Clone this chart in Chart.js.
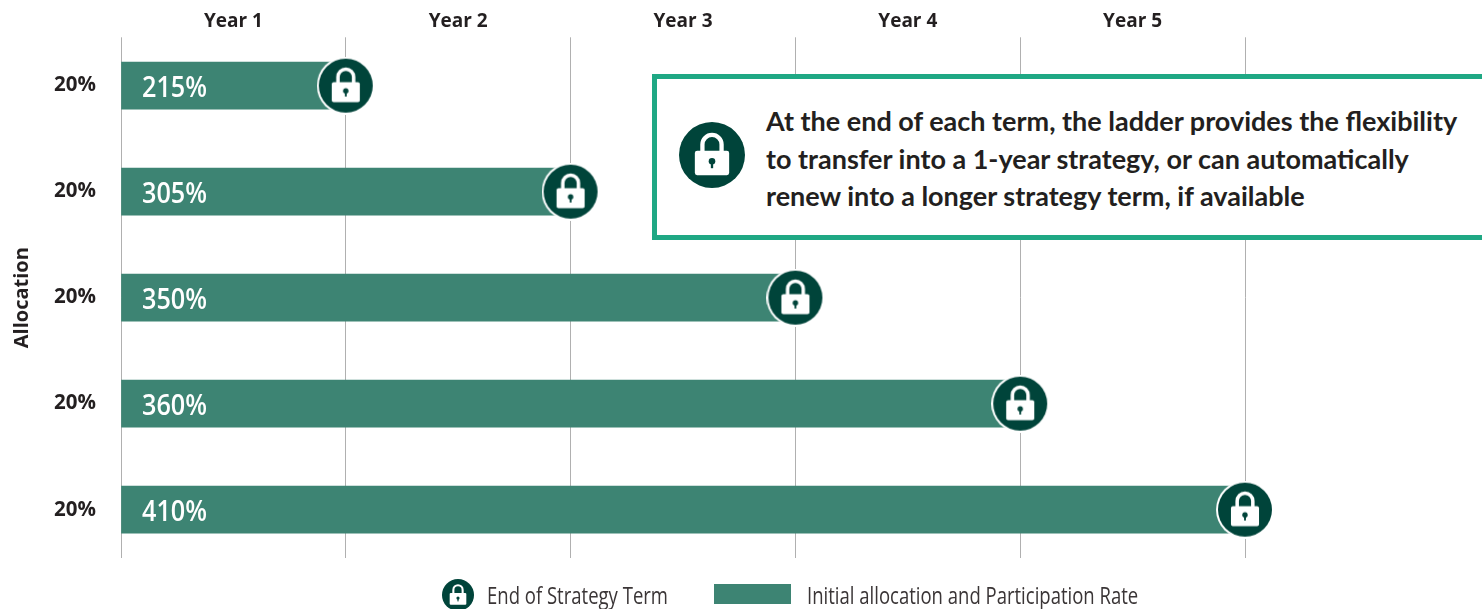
<!DOCTYPE html>
<html>
<head>
<meta charset="utf-8">
<script src="https://cdn.jsdelivr.net/npm/chart.js@4"></script>
<style>
  html, body { margin: 0; padding: 0; background: #fff; overflow: hidden; }
  #wrap { position: relative; width: 1482px; height: 609px; overflow: hidden; }
  #callout {
    position: absolute; left: 652px; top: 74px; width: 860px; height: 166px;
    box-sizing: border-box; border: 5px solid #1fa884; background: #fff;
  }
  #callout canvas { position: absolute; left: 22px; top: 43px; }
  #callout div {
    position: absolute; left: 109px; top: 23px; white-space: nowrap;
    font: 700 27px/37.5px Lato, sans-serif; color: #231f20;
  }
  .legend-text {
    position: absolute; top: 580px; white-space: nowrap; transform: scaleX(0.805); transform-origin: left center;
    font: 23px/30px "Open Sans", sans-serif; color: #3a3536;
  }
  #swatch { position: absolute; left: 714px; top: 584px; width: 77px; height: 20px; background: #3d8473; }
  #legendLock { position: absolute; left: 442px; top: 579px; }
</style>
</head>
<body>
<div id="wrap">
  <canvas id="ladderChart" width="1482" height="609"></canvas>
  <div id="callout">
    <canvas id="calloutLock"></canvas>
    <div>At the end of each term, the ladder provides the flexibility<br>to transfer into a 1-year strategy, or can automatically<br>renew into a longer strategy term, if available</div>
  </div>
  <canvas id="legendLock"></canvas>
  <span class="legend-text" style="left:487px">End of Strategy Term</span>
  <div id="swatch"></div>
  <span class="legend-text" style="left:807px">Initial allocation and Participation Rate</span>
</div>

<script>
// Data
var yearLabels = ["Year 1", "Year 2", "Year 3", "Year 4", "Year 5"];
var allocations = ["20%", "20%", "20%", "20%", "20%"];
var rows = [0, 1, 2, 3, 4];
var termYears = [1, 2, 3, 4, 5];
var participationRates = ["215%", "305%", "350%", "360%", "410%"];

var barColor = "#3d8473";
var lockColor = "#00443a";
var textColor = "#231f20";

// Lock icon on a dark disc, used as point style and in the legend / callout
function paintLock(canvas, r, ring) {
    var pad = ring ? 2 : 0;
    var size = Math.ceil((r + pad) * 2);
    canvas.width = size;
    canvas.height = size;
    var c = canvas.getContext("2d");
    c.translate(size / 2, size / 2);
    if (ring) {
        c.fillStyle = "#fff";
        c.beginPath();
        c.arc(0, 0, r + pad, 0, Math.PI * 2);
        c.fill();
    }
    c.fillStyle = lockColor;
    c.beginPath();
    c.arc(0, 0, r, 0, Math.PI * 2);
    c.fill();
    // shackle
    c.strokeStyle = "#fff";
    c.lineWidth = r * 0.13;
    c.beginPath();
    c.moveTo(-r * 0.29, 0);
    c.lineTo(-r * 0.29, -r * 0.32);
    c.arc(0, -r * 0.32, r * 0.29, Math.PI, 0);
    c.lineTo(r * 0.29, 0);
    c.stroke();
    // body
    c.fillStyle = "#fff";
    c.beginPath();
    c.roundRect(-r * 0.52, -r * 0.13, r * 1.04, r * 0.74, r * 0.07);
    c.fill();
    // keyhole
    c.fillStyle = lockColor;
    c.beginPath();
    c.arc(0, r * 0.19, r * 0.1, 0, Math.PI * 2);
    c.fill();
    c.fillRect(-r * 0.035, r * 0.19, r * 0.07, r * 0.21);
    return canvas;
}

var pointLock = paintLock(document.createElement("canvas"), 27, true);
paintLock(document.getElementById("calloutLock"), 33, false);
paintLock(document.getElementById("legendLock"), 16, false);

// Rate labels inside the bars
var rateLabels = {
    id: "rateLabels",
    afterDatasetsDraw: function(chart) {
        var c = chart.ctx;
        c.save();
        c.fillStyle = "#fff";
        c.font = '600 28px "Open Sans", sans-serif';
        c.textBaseline = "middle";
        rows.forEach(function(row, i) {
            c.save();
            c.translate(chart.scales.x.getPixelForValue(0) + 21, chart.scales.y.getPixelForValue(row) + 3.5);
            c.scale(0.9, 1);
            c.fillText(participationRates[i], 0, 0);
            c.restore();
        });
        c.restore();
    }
};

var ctx = document.getElementById("ladderChart");
var ladderChart = new Chart(ctx, {
    type: "bar",
    data: {
        datasets: [
            {
                type: "scatter",
                label: "End of Strategy Term",
                data: termYears.map(function(t, i) { return { x: t, y: rows[i] }; }),
                pointStyle: pointLock,
                clip: false,
                xAxisID: "x",
                yAxisID: "y",
                order: 0
            },
            {
                label: "Initial allocation and Participation Rate",
                data: termYears.map(function(t, i) { return { x: t, y: rows[i] }; }),
                backgroundColor: barColor,
                barThickness: 47,
                xAxisID: "x",
                yAxisID: "y",
                order: 1
            }
        ]
    },
    options: {
        indexAxis: "y",
        responsive: false,
        animation: false,
        layout: { padding: { left: 0, right: 237, top: 0, bottom: 51 } },
        plugins: { legend: { display: false }, tooltip: { enabled: false } },
        scales: {
            x: {
                type: "linear",
                position: "bottom",
                min: 0,
                max: 5,
                ticks: { display: false, stepSize: 1 },
                border: { display: false },
                grid: { color: "#b0b0b0", lineWidth: 1, drawTicks: false }
            },
            yearAxis: {
                type: "category",
                axis: "x",
                position: "top",
                display: true,
                labels: yearLabels,
                offset: true,
                ticks: {
                    color: textColor,
                    padding: 4,
                    maxRotation: 0,
                    font: { family: '"Open Sans", sans-serif', size: 19, weight: "700" }
                },
                border: { display: false },
                grid: { display: false, drawTicks: false },
                afterFit: function(scale) { scale.height = 36; }
            },
            y: {
                type: "linear",
                reverse: true,
                offset: false,
                min: -0.456,
                max: 4.456,
                afterBuildTicks: function(scale) {
                    scale.ticks = rows.map(function(r) { return { value: r }; });
                },
                afterFit: function(scale) { scale.width = 121; },
                ticks: {
                    color: textColor,
                    padding: 25,
                    font: { family: '"Open Sans", sans-serif', size: 20.5, weight: "700" },
                    callback: function(value) { return allocations[value]; }
                },
                title: {
                    display: true,
                    text: "Allocation",
                    color: textColor,
                    padding: { top: 10, bottom: 0 },
                    font: { family: '"Open Sans", sans-serif', size: 20, weight: "700" }
                },
                border: { display: false },
                grid: { display: false, drawTicks: false }
            }
        }
    },
    plugins: [rateLabels]
});
</script>
</body>
</html>
